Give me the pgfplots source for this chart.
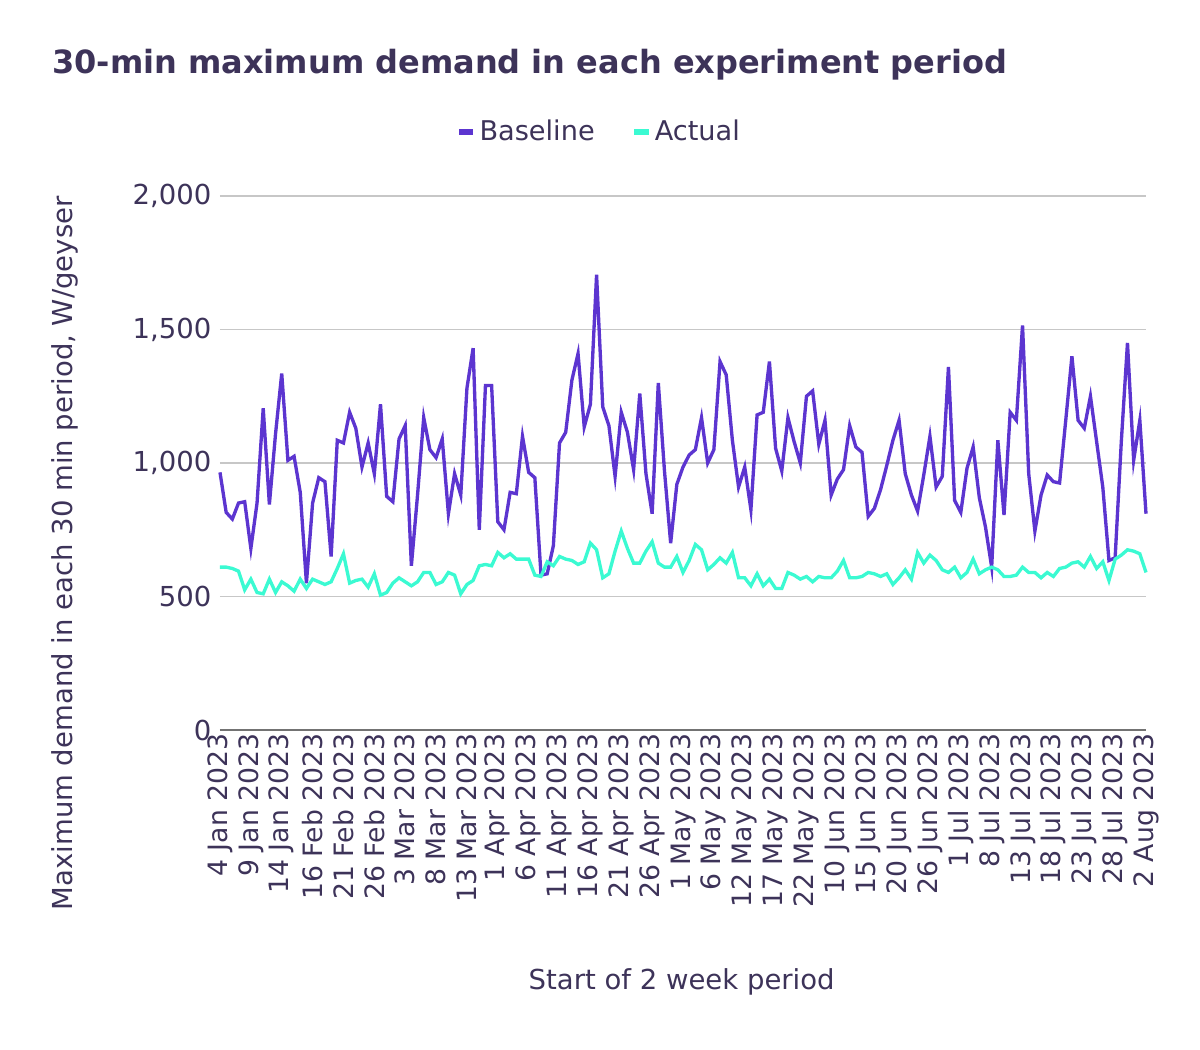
\documentclass[border=0pt]{standalone}
\usepackage{pgfplots}
\pgfplotsset{compat=1.18}
\usepackage{fontspec}
\setmainfont{DejaVu Sans}
\definecolor{txt}{HTML}{3D3359}
\definecolor{base}{HTML}{5C35D0}
\definecolor{act}{HTML}{3BFAD2}
\begin{document}
\begin{tikzpicture}
\path[use as bounding box] (-132pt,-191.4pt) rectangle (588pt,438pt);
\begin{axis}[at={(0,0)},anchor=south west,scale only axis,width=555.6pt,height=320.4pt,
 xmin=0,xmax=150,ymin=0,ymax=2000,
 axis line style={draw=none},
 ytick={0,500,1000,1500,2000},
 yticklabels={0,500,{1,000},{1,500},{2,000}},
 ymajorgrids, grid style={color=black!22,line width=0.8pt},
 major tick length=0pt,
 xtick={0,5,...,150},
 xticklabels={4 Jan 2023,9 Jan 2023,14 Jan 2023,16 Feb 2023,21 Feb 2023,26 Feb 2023,3 Mar 2023,8 Mar 2023,13 Mar 2023,1 Apr 2023,6 Apr 2023,11 Apr 2023,16 Apr 2023,21 Apr 2023,26 Apr 2023,1 May 2023,6 May 2023,12 May 2023,17 May 2023,22 May 2023,10 Jun 2023,15 Jun 2023,20 Jun 2023,26 Jun 2023,1 Jul 2023,8 Jul 2023,13 Jul 2023,18 Jul 2023,23 Jul 2023,28 Jul 2023,2 Aug 2023},
 xticklabel style={rotate=90,anchor=east,font=\fontsize{16}{17}\selectfont,text=txt,inner sep=2pt},
 yticklabel style={font=\fontsize{16.5}{17}\selectfont,text=txt,inner sep=5pt},
 /pgf/number format/assume math mode=true,
 legend style={at={(0.41,1.12)},anchor=center,draw=none,legend columns=2,font=\fontsize{16.3}{17}\selectfont,text=txt,/tikz/every even column/.append style={column sep=20pt}},
 legend image code/.code={\draw[#1,line width=3.5pt] (0cm,0cm) -- (0.3cm,0cm);},
 clip=false]
\draw[black!55,line width=0.8pt] (axis cs:0,0) -- (axis cs:150,0);
\addplot[base,line width=2pt] coordinates {
(0,965)(1,815)(2,790)(3,850)(4,855)(5,680)(6,850)(7,1205)(8,845)(9,1110)(10,1335)(11,1010)(12,1025)(13,890)(14,550)(15,850)(16,945)(17,930)(18,650)(19,1085)(20,1075)(21,1190)(22,1130)(23,985)(24,1075)(25,960)(26,1220)(27,875)(28,855)(29,1090)(30,1140)(31,615)(32,880)(33,1170)(34,1050)(35,1020)(36,1090)(37,810)(38,960)(39,880)(40,1280)(41,1430)(42,750)(43,1290)(44,1290)(45,780)(46,750)(47,890)(48,885)(49,1100)(50,965)(51,945)(52,580)(53,585)(54,690)(55,1075)(56,1115)(57,1310)(58,1410)(59,1135)(60,1220)(61,1705)(62,1210)(63,1140)(64,950)(65,1190)(66,1115)(67,975)(68,1260)(69,960)(70,810)(71,1300)(72,970)(73,700)(74,920)(75,985)(76,1030)(77,1050)(78,1170)(79,1000)(80,1050)(81,1380)(82,1330)(83,1085)(84,910)(85,985)(86,825)(87,1180)(88,1190)(89,1380)(90,1055)(91,970)(92,1170)(93,1080)(94,1000)(95,1250)(96,1270)(97,1070)(98,1160)(99,880)(100,940)(101,975)(102,1140)(103,1060)(104,1040)(105,800)(106,830)(107,900)(108,990)(109,1085)(110,1160)(111,960)(112,880)(113,820)(114,955)(115,1100)(116,910)(117,950)(118,1360)(119,860)(120,815)(121,980)(122,1060)(123,870)(124,760)(125,610)(126,1085)(127,805)(128,1190)(129,1160)(130,1515)(131,960)(132,745)(133,880)(134,955)(135,930)(136,925)(137,1160)(138,1400)(139,1160)(140,1130)(141,1250)(142,1080)(143,910)(144,635)(145,645)(146,1080)(147,1450)(148,1010)(149,1160)(150,810)};
\addlegendentry{Baseline}
\addplot[act,line width=2pt] coordinates {
(0,610)(1,610)(2,605)(3,595)(4,525)(5,565)(6,515)(7,510)(8,565)(9,515)(10,555)(11,540)(12,520)(13,565)(14,530)(15,565)(16,555)(17,545)(18,555)(19,605)(20,660)(21,550)(22,560)(23,565)(24,535)(25,585)(26,505)(27,515)(28,550)(29,570)(30,555)(31,540)(32,555)(33,590)(34,590)(35,545)(36,555)(37,590)(38,580)(39,510)(40,545)(41,560)(42,615)(43,620)(44,615)(45,665)(46,645)(47,660)(48,640)(49,640)(50,640)(51,580)(52,575)(53,630)(54,615)(55,650)(56,640)(57,635)(58,620)(59,630)(60,700)(61,675)(62,570)(63,585)(64,670)(65,745)(66,680)(67,625)(68,625)(69,670)(70,705)(71,625)(72,610)(73,610)(74,650)(75,590)(76,635)(77,695)(78,675)(79,600)(80,620)(81,645)(82,625)(83,665)(84,570)(85,570)(86,540)(87,585)(88,540)(89,565)(90,530)(91,530)(92,590)(93,580)(94,565)(95,575)(96,555)(97,575)(98,570)(99,570)(100,595)(101,635)(102,570)(103,570)(104,575)(105,590)(106,585)(107,575)(108,585)(109,545)(110,570)(111,600)(112,565)(113,665)(114,625)(115,655)(116,635)(117,600)(118,590)(119,610)(120,570)(121,590)(122,640)(123,585)(124,600)(125,610)(126,600)(127,575)(128,575)(129,580)(130,610)(131,590)(132,590)(133,570)(134,590)(135,575)(136,605)(137,610)(138,625)(139,630)(140,610)(141,650)(142,605)(143,630)(144,560)(145,640)(146,655)(147,675)(148,670)(149,660)(150,590)};
\addlegendentry{Actual}
\end{axis}
\node[anchor=west,text=txt,font=\bfseries\fontsize{19.2}{20}\selectfont,inner sep=0pt] at (-100.8pt,399pt) {30-min maximum demand in each experiment period};
\node[rotate=90,text=txt,font=\fontsize{16.5}{17}\selectfont] at (-93pt,106pt) {Maximum demand in each 30 min period, W/geyser};
\node[text=txt,font=\fontsize{16.5}{17}\selectfont] at (277pt,-151pt) {Start of 2 week period};
\end{tikzpicture}
\end{document}
